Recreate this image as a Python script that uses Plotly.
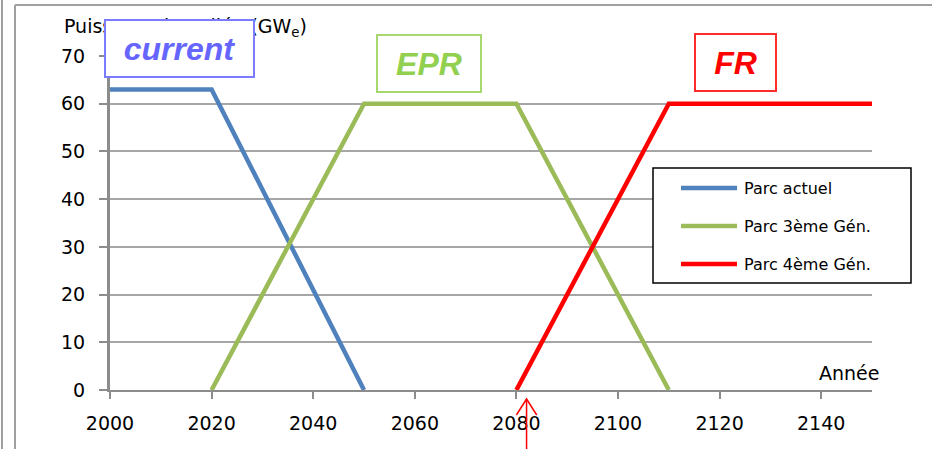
import plotly.graph_objects as go

# Installed nuclear capacity scenario (GWe) by year
years_actuel = [2000, 2020, 2050]
gw_actuel = [63, 63, 0]

years_gen3 = [2020, 2050, 2080, 2110]
gw_gen3 = [0, 60, 60, 0]

years_gen4 = [2080, 2110, 2150]
gw_gen4 = [0, 60, 60]

series_names = ["Parc actuel", "Parc 3ème Gén.", "Parc 4ème Gén."]
series_colors = ["#4f81bd", "#9bbb59", "#ff0000"]

x_ticks = [2000, 2020, 2040, 2060, 2080, 2100, 2120, 2140]
y_ticks = [0, 10, 20, 30, 40, 50, 60, 70]

arrow_year = 2082  # start of the 4th-generation fleet deployment

W, H = 932, 449
ML, MR, MT, MB = 110, 60, 56, 59
PW, PH = W - ML - MR, H - MT - MB


def px(x):
    return (x - ML) / PW


def py(y):
    return (H - MB - y) / PH


fig = go.Figure()
for xs, ys, name, color in zip(
    [years_actuel, years_gen3, years_gen4],
    [gw_actuel, gw_gen3, gw_gen4],
    series_names, series_colors,
):
    fig.add_trace(go.Scatter(x=xs, y=ys, mode="lines", name=name,
                             line=dict(color=color, width=4.5), cliponaxis=False))

grid = "#a6a6a6"
tick_font = dict(family="DejaVu Sans", size=19, color="#000000")

fig.update_layout(
    width=W, height=H,
    margin=dict(l=ML, r=MR, t=MT, b=MB, pad=0),
    paper_bgcolor="white", plot_bgcolor="white",
    showlegend=False,
    xaxis=dict(range=[2000, 2150], tickvals=x_ticks, ticktext=[str(v) for v in x_ticks],
               showgrid=False, zeroline=False, showline=True, linecolor="#8c8c8c", linewidth=2,
               ticks="outside", ticklen=7, tickcolor="#8c8c8c", tickwidth=2,
               tickfont=tick_font, ticklabelstandoff=8),
    yaxis=dict(range=[0, 70], tickvals=y_ticks, showgrid=True, gridcolor=grid, gridwidth=2,
               zeroline=False, showline=True, linecolor="#8c8c8c", linewidth=3,
               ticks="outside", ticklen=8, tickcolor="#8c8c8c", tickwidth=2,
               tickfont=tick_font, ticklabelstandoff=10),
)

# Outer frame lines
frame = dict(color="#a0a0a0", width=2)
fig.add_shape(type="line", xref="paper", yref="paper", x0=px(2), x1=px(2), y0=py(0), y1=py(H), line=frame)
fig.add_shape(type="line", xref="paper", yref="paper", x0=px(15), x1=px(15), y0=py(5), y1=py(H), line=frame)
fig.add_shape(type="line", xref="paper", yref="paper", x0=px(15), x1=px(W), y0=py(5), y1=py(5), line=frame)

# Axis titles
fig.add_annotation(xref="paper", yref="paper", x=px(62), y=py(27), xanchor="left", yanchor="middle",
                   text="Puissance installée (GW<sub>e</sub>)", showarrow=False,
                   font=dict(family="DejaVu Sans", size=19, color="#000000"))
fig.add_annotation(xref="paper", yref="paper", x=px(881), y=py(373), xanchor="right", yanchor="middle",
                   text="Année", showarrow=False,
                   font=dict(family="DejaVu Sans", size=19, color="#000000"))

# Fleet labels in boxes
for label, cx, cy, w, h, tcol, bcol in [
    ("current", 179, 48.5, 147, 55, "#6666ff", "#7b7bff"),
    ("EPR", 429, 63, 102, 55, "#92d050", "#a6d86e"),
    ("FR", 735, 62.5, 79, 55, "#ff0000", "#ff2a2a"),
]:
    fig.add_annotation(xref="paper", yref="paper", x=px(cx), y=py(cy), xanchor="center", yanchor="middle",
                       text=f"<b><i>{label}</i></b>", showarrow=False, width=w, height=h,
                       bgcolor="white", bordercolor=bcol, borderwidth=2, borderpad=0,
                       font=dict(family="Liberation Sans, Arial", size=32, color=tcol))

# Legend box
fig.add_shape(type="rect", xref="paper", yref="paper", x0=px(653), x1=px(911), y0=py(283), y1=py(168),
              line=dict(color="#000000", width=1.5), fillcolor="white")
for i, (name, color) in enumerate(zip(series_names, series_colors)):
    yc = 188 + 38 * i
    fig.add_shape(type="line", xref="paper", yref="paper", x0=px(681), x1=px(737), y0=py(yc), y1=py(yc),
                  line=dict(color=color, width=4.5))
    fig.add_annotation(xref="paper", yref="paper", x=px(742), y=py(yc), xanchor="left", yanchor="middle",
                       text=name, showarrow=False,
                       font=dict(family="DejaVu Sans", size=16, color="#000000"))

# Red arrow marking the 4th-generation start
arrow_line = dict(color="#ff0000", width=1.5)
fig.add_shape(type="line", xref="x", yref="paper", x0=arrow_year, x1=arrow_year,
              y0=py(399), y1=py(H), line=arrow_line)
fig.add_shape(type="path", xref="x", yref="paper",
              path=f"M {arrow_year - 2} {py(415)} L {arrow_year} {py(399)} L {arrow_year + 2} {py(415)}",
              line=arrow_line)

fig.write_html("out.html")
